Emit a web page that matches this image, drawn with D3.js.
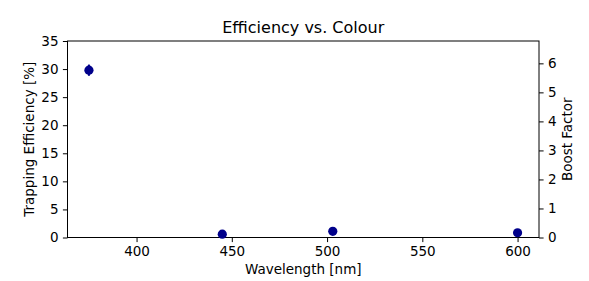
<!DOCTYPE html>
<html><head><meta charset="utf-8">
<script src="https://cdn.jsdelivr.net/npm/d3@7"></script>
<style>
html,body{margin:0;padding:0;background:#fff;}
text{font-family:"DejaVu Sans",sans-serif;fill:#000;}
</style></head>
<body>
<svg id="c" width="589" height="281"></svg>
<script>
const wavelengths = [375, 445, 503, 600];
const efficiency = [29.8, 0.6, 1.1, 0.85];
const efficiencyErr = [1.0, 0.1, 0.1, 0.1];
const xTicks = [400, 450, 500, 550, 600];
const yTicks = [0, 5, 10, 15, 20, 25, 30, 35];
const y2Ticks = [0, 1, 2, 3, 4, 5, 6];
const title = "Efficiency vs. Colour";
const xLabel = "Wavelength [nm]";
const yLabel = "Trapping Efficiency [%]";
const y2Label = "Boost Factor";

const svg = d3.select("#c");
const L = 67.5, R = 539, T = 41, B = 237.5;
const x = d3.scaleLinear().domain([363.75, 611.25]).range([L, R]);
const y = d3.scaleLinear().domain([0, 35]).range([B, T]);
const y2 = d3.scaleLinear().domain([0, 6.77]).range([B, T]);

const fs = 13.5, tl = 4.6, pad = 4.4;

function styleAxis(g){
  g.selectAll(".domain").remove();
  g.selectAll(".tick line").attr("stroke","#000").attr("stroke-width",1);
  g.selectAll(".tick text").style("font-size", fs+"px").style("font-family","DejaVu Sans");
}

svg.append("g").attr("transform",`translate(0,${B})`)
  .call(d3.axisBottom(x).tickValues(xTicks).tickSize(tl).tickPadding(pad).tickFormat(d3.format("d")))
  .call(styleAxis);
svg.append("g").attr("transform",`translate(${L},0)`)
  .call(d3.axisLeft(y).tickValues(yTicks).tickSize(tl).tickPadding(pad).tickFormat(d3.format("d")))
  .call(styleAxis);
svg.append("g").attr("transform",`translate(${R},0)`)
  .call(d3.axisRight(y2).tickValues(y2Ticks).tickSize(tl).tickPadding(pad).tickFormat(d3.format("d")))
  .call(styleAxis);

// frame
svg.append("rect").attr("x",L).attr("y",T).attr("width",R-L).attr("height",B-T)
  .attr("fill","none").attr("stroke","#000").attr("stroke-width",1);

const color = "#00008b";
const pts = wavelengths.map((w,i)=>({w, v:efficiency[i], e:efficiencyErr[i]}));
svg.append("g").selectAll("line").data(pts).join("line")
  .attr("x1",d=>x(d.w)).attr("x2",d=>x(d.w))
  .attr("y1",d=>y(d.v-d.e)).attr("y2",d=>y(d.v+d.e))
  .attr("stroke",color).attr("stroke-width",2);
svg.append("g").selectAll("circle").data(pts).join("circle")
  .attr("cx",d=>x(d.w)).attr("cy",d=>y(d.v)).attr("r",4.6).attr("fill",color);

svg.append("text").attr("x",(L+R)/2).attr("y",T-8).attr("text-anchor","middle")
  .style("font-size","16px").text(title);
svg.append("text").attr("x",(L+R)/2).attr("y",274).attr("text-anchor","middle")
  .style("font-size",fs+"px").text(xLabel);
svg.append("text").attr("transform",`translate(34,${(T+B)/2}) rotate(-90)`).attr("text-anchor","middle")
  .style("font-size",fs+"px").text(yLabel);
svg.append("text").attr("transform",`translate(572,${(T+B)/2}) rotate(-90)`).attr("text-anchor","middle")
  .style("font-size",fs+"px").text(y2Label);
</script>
</body></html>
